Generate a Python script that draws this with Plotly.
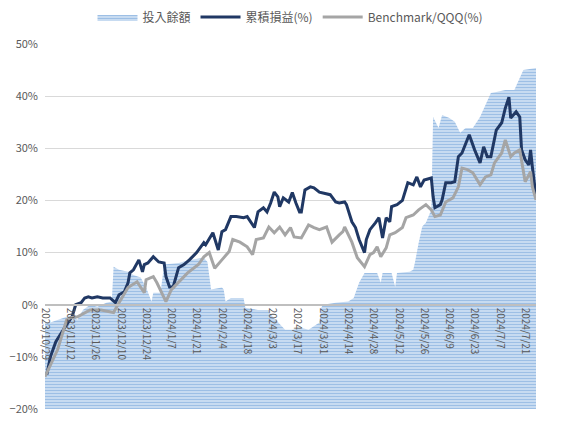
import plotly.graph_objects as go

# 累積損益(%)
pnl_dates = ["2023-10-30","2023-11-01","2023-11-04","2023-11-07","2023-11-10","2023-11-13","2023-11-15","2023-11-18",
    "2023-11-20","2023-11-22","2023-11-24","2023-11-27","2023-11-30","2023-12-04","2023-12-07","2023-12-09","2023-12-12",
    "2023-12-14","2023-12-15","2023-12-17","2023-12-20","2023-12-22","2023-12-23","2023-12-25","2023-12-28","2023-12-31",
    "2024-01-03","2024-01-04","2024-01-06","2024-01-08","2024-01-10","2024-01-11","2024-01-14","2024-01-17","2024-01-21",
    "2024-01-25","2024-01-26","2024-01-30","2024-02-02","2024-02-04","2024-02-06","2024-02-09","2024-02-12","2024-02-16",
    "2024-02-18","2024-02-20","2024-02-22","2024-02-24","2024-02-27","2024-02-29","2024-03-02","2024-03-04","2024-03-06",
    "2024-03-07","2024-03-09","2024-03-12","2024-03-14","2024-03-16","2024-03-18","2024-03-19","2024-03-21","2024-03-24",
    "2024-03-26","2024-03-29","2024-03-31","2024-04-04","2024-04-07","2024-04-09","2024-04-12","2024-04-13","2024-04-16",
    "2024-04-18","2024-04-20","2024-04-23","2024-04-24","2024-04-26","2024-04-29","2024-05-01","2024-05-03","2024-05-05",
    "2024-05-07","2024-05-08","2024-05-11","2024-05-14","2024-05-17","2024-05-20","2024-05-22","2024-05-24","2024-05-26",
    "2024-05-30","2024-05-31","2024-06-01","2024-06-04","2024-06-05","2024-06-07","2024-06-10","2024-06-12","2024-06-14",
    "2024-06-16","2024-06-20","2024-06-23","2024-06-26","2024-06-28","2024-06-30","2024-07-02","2024-07-05","2024-07-08",
    "2024-07-10","2024-07-12","2024-07-13","2024-07-16","2024-07-18","2024-07-19","2024-07-21","2024-07-23","2024-07-24",
    "2024-07-25","2024-07-27"]
pnl_values = [-13.4,-10.0,-7.1,-5.4,-3.8,-2.3,0.0,0.4,1.3,1.5,1.3,1.5,1.3,1.3,0.4,1.9,2.5,
    4.2,6.1,6.7,8.6,6.3,7.7,8.0,9.2,8.2,8.0,5.4,3.4,3.4,6.1,7.1,7.7,8.6,10.0,
    11.9,11.5,13.8,10.5,14.0,14.4,16.9,16.9,16.7,16.9,15.9,14.8,17.8,18.6,17.8,19.5,21.6,20.7,
    18.8,20.5,19.7,21.5,19.5,17.8,17.8,22.0,22.6,22.4,21.6,21.4,21.1,19.7,19.5,19.7,19.2,15.9,
    14.8,12.5,10.0,12.5,14.4,15.7,16.7,12.8,16.7,15.9,18.8,19.2,20.0,23.4,23.0,24.5,22.6,23.9,
    24.3,20.7,18.6,19.2,20.1,23.4,23.4,23.6,28.4,29.1,32.6,29.7,27.2,30.3,28.4,28.4,33.5,34.9,
    37.7,39.8,35.8,37.0,36.0,29.7,27.8,26.8,29.7,26.4,20.7]

# Benchmark/QQQ(%)
bench_dates = ["2023-10-29","2023-11-05","2023-11-10","2023-11-12","2023-11-16","2023-11-23","2023-11-29","2023-12-06",
    "2023-12-09","2023-12-14","2023-12-19","2023-12-23","2023-12-24","2023-12-28","2023-12-30","2024-01-04","2024-01-07",
    "2024-01-11","2024-01-16","2024-01-22","2024-01-25","2024-01-28","2024-01-31","2024-02-04","2024-02-08","2024-02-10",
    "2024-02-14","2024-02-18","2024-02-21","2024-02-23","2024-02-27","2024-03-01","2024-03-04","2024-03-07","2024-03-10",
    "2024-03-13","2024-03-15","2024-03-19","2024-03-23","2024-03-26","2024-03-29","2024-04-02","2024-04-05","2024-04-09",
    "2024-04-11","2024-04-12","2024-04-16","2024-04-19","2024-04-23","2024-04-26","2024-04-28","2024-04-30","2024-05-02",
    "2024-05-05","2024-05-07","2024-05-10","2024-05-14","2024-05-16","2024-05-20","2024-05-23","2024-05-27","2024-05-30",
    "2024-06-01","2024-06-04","2024-06-07","2024-06-11","2024-06-14","2024-06-16","2024-06-19","2024-06-22","2024-06-26",
    "2024-06-29","2024-07-02","2024-07-04","2024-07-08","2024-07-10","2024-07-13","2024-07-15","2024-07-18","2024-07-21",
    "2024-07-24","2024-07-25","2024-07-27"]
bench_values = [-13.8,-8.6,-2.9,-2.5,-2.3,-1.0,-1.0,-1.5,0.4,3.3,4.4,2.3,4.8,5.4,4.2,0.6,2.9,
    4.4,6.1,7.7,9.2,10.0,7.0,8.6,10.2,12.5,12.0,11.1,9.6,12.5,12.8,14.9,13.8,14.9,13.4,
    14.8,13.0,12.8,15.3,14.8,14.4,14.9,12.0,13.4,14.0,14.9,12.0,9.0,7.3,9.6,10.0,11.1,9.2,
    10.9,13.4,13.8,14.8,16.7,17.2,18.2,19.2,18.2,16.9,17.2,19.7,20.5,22.6,26.2,25.9,25.3,23.0,
    24.5,24.9,27.2,29.1,31.6,28.4,29.1,29.7,23.6,25.5,22.6,20.1]

# 投入餘額 (hidden secondary scale)
bal_dates = ["2023-10-29","2023-11-01","2023-11-10","2023-11-14","2023-11-16","2023-11-19","2023-11-23","2023-11-27",
    "2023-12-02","2023-12-05","2023-12-06","2023-12-09","2023-12-14","2023-12-17","2023-12-21","2023-12-24","2023-12-27",
    "2023-12-28","2024-01-01","2024-01-03","2024-01-11","2024-01-18","2024-01-25","2024-01-27","2024-01-29","2024-02-04",
    "2024-02-05","2024-02-06","2024-02-09","2024-02-16","2024-02-17","2024-02-24","2024-03-01","2024-03-02","2024-03-06",
    "2024-03-10","2024-03-14","2024-03-19","2024-03-23","2024-03-29","2024-03-30","2024-03-31","2024-04-07","2024-04-14",
    "2024-04-17","2024-04-20","2024-04-23","2024-04-27","2024-04-30","2024-05-02","2024-05-03","2024-05-08","2024-05-10",
    "2024-05-11","2024-05-18","2024-05-20","2024-05-21","2024-05-23","2024-05-25","2024-05-27","2024-05-30","2024-05-31",
    "2024-06-03","2024-06-05","2024-06-09","2024-06-12","2024-06-15","2024-06-18","2024-06-22","2024-06-26","2024-06-29",
    "2024-07-02","2024-07-05","2024-07-10","2024-07-15","2024-07-18","2024-07-20","2024-07-27"]
bal_values = [16.7,16.6,17.7,17.7,17.1,19.0,20.0,19.6,
    20.4,20.6,27.3,26.7,26.3,25.7,25.2,23.3,20.6,
    22.3,22.3,27.7,28.0,28.6,29.0,28.2,22.9,23.3,
    22.9,20.6,21.3,21.3,19.4,19.0,19.0,18.1,16.7,
    15.2,15.2,15.6,15.2,16.6,19.4,20.0,20.4,20.6,
    21.3,24.2,26.1,26.1,26.1,24.2,26.1,26.1,23.4,
    26.1,26.3,26.7,28.2,31.9,35.0,35.7,38.2,56.0,
    53.9,56.4,55.8,55.1,53.0,53.9,53.9,56.0,58.3,
    60.6,60.8,61.2,61.2,63.7,65.0,65.4]

TXT = "#595959"

fig = go.Figure()
fig.add_trace(go.Scatter(
    x=bal_dates, y=bal_values, name="投入餘額", mode="lines", yaxis="y",
    line=dict(width=0, color="#7fa9dc"), fill="tozeroy", fillcolor="#c9dcf1",
    fillpattern=dict(shape="-", fgcolor="#6b9ed8", bgcolor="#cfe0f3", size=3, solidity=0.45),
))
fig.add_trace(go.Scatter(
    x=pnl_dates, y=pnl_values, name="累積損益(%)", mode="lines", yaxis="y2",
    line=dict(color="#203864", width=3),
))
fig.add_trace(go.Scatter(
    x=bench_dates, y=bench_values, name="Benchmark/QQQ(%)", mode="lines", yaxis="y2",
    line=dict(color="#a5a5a5", width=3),
))

fig.update_layout(
    width=579, height=432,
    margin=dict(l=37, r=51, t=36, b=31, autoexpand=False),
    paper_bgcolor="white", plot_bgcolor="white",
    font=dict(family="Noto Sans CJK TC, Liberation Sans, sans-serif", size=11, color=TXT),
    legend=dict(orientation="h", x=0.5, xanchor="center", y=1.074, yanchor="middle",
                font=dict(size=12, color=TXT), itemwidth=40, tracegroupgap=0),
    xaxis=dict(
        type="date", range=["2023-10-29", "2024-07-27"],
        tick0="2023-10-29", dtick=14 * 86400000, tickformat="%Y/%-m/%-d",
        tickangle=90, tickfont=dict(size=10, color=TXT),
        anchor="free", position=20 / 70,
        showgrid=False, showline=True, linecolor="#bfbfbf", linewidth=2,
        ticks="", layer="above traces",
    ),
    yaxis=dict(range=[0, 70], visible=False, showgrid=False, zeroline=False),
    yaxis2=dict(
        overlaying="y", side="left", range=[-20, 50], dtick=10, ticksuffix="%",
        showgrid=True, gridcolor="#d9d9d9", gridwidth=1, zeroline=False,
        tickfont=dict(size=11, color=TXT), ticklabelstandoff=6,
    ),
)

fig.write_html("out.html")
